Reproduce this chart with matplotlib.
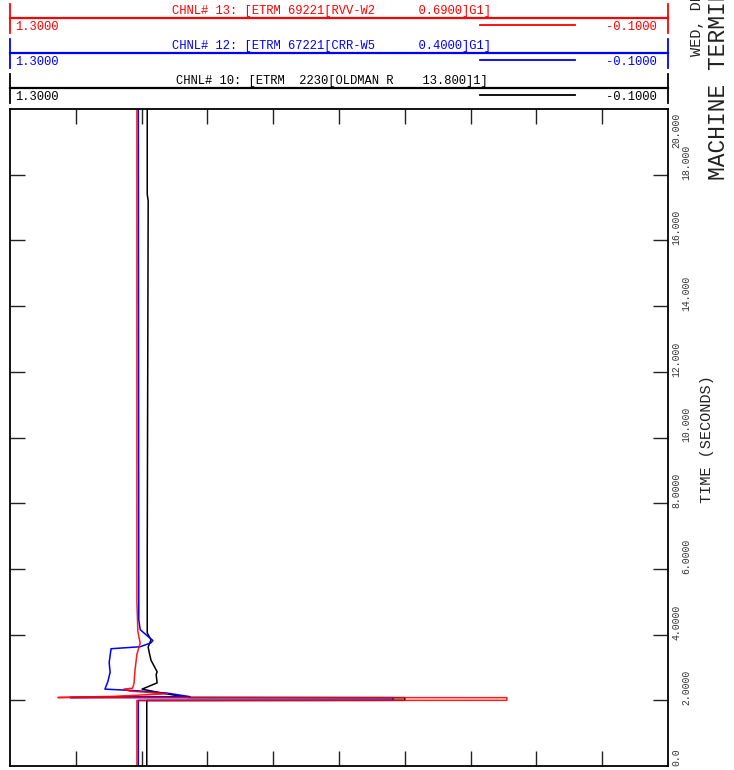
import numpy as np
import matplotlib.pyplot as plt

plt.rcParams['font.family'] = ['Liberation Mono', 'DejaVu Sans Mono']

# -------------------------------------------------
# data (time in s, terminal voltage in pu)
# -------------------------------------------------
t_ch13 = [0.0, 1.995, 2.0, 2.08, 2.085, 2.12, 2.2, 2.28, 2.34, 2.37, 2.53,
          2.92, 3.4, 3.74, 4.1, 5.0, 20.0]
v_ch13 = [1.030, 1.030, 0.243, 0.243, 1.198, 1.08, 0.965, 1.045, 1.058, 1.039,
          1.036, 1.034, 1.030, 1.023, 1.028, 1.030, 1.030]

t_ch12 = [0.0, 1.995, 2.0, 2.08, 2.085, 2.11, 2.22, 2.30, 2.34, 2.56, 2.85,
          3.15, 3.57, 3.63, 3.75, 3.82, 3.94, 4.15, 4.45, 20.0]
v_ch12 = [1.027, 1.027, 0.485, 0.485, 1.172, 0.917, 0.966, 1.040, 1.098, 1.092,
          1.087, 1.089, 1.085, 1.023, 1.000, 0.996, 1.006, 1.023, 1.026, 1.027]

t_ch10 = [0.0, 1.995, 2.0, 2.08, 2.085, 2.23, 2.34, 2.53, 2.78, 2.87, 3.22,
          3.47, 3.62, 3.84, 4.05, 6.5, 17.2, 17.4, 20.0]
v_ch10 = [1.009, 1.009, 0.460, 0.460, 0.920, 0.981, 1.019, 0.987, 0.989, 0.987,
          1.000, 1.004, 1.006, 1.000, 1.008, 1.008, 1.006, 1.008, 1.008]

channel_titles = [
    "CHNL# 13: [ETRM 69221[RVV-W2      0.6900]G1]",
    "CHNL# 12: [ETRM 67221[CRR-W5      0.4000]G1]",
    "CHNL# 10: [ETRM  2230[OLDMAN R    13.800]1]",
]
channel_colors = ["#ff0000", "#0000ff", "#000000"]
v_min, v_max = -0.1, 1.3
time_ticks = [0.0, 2.0, 4.0, 6.0, 8.0, 10.0, 12.0, 14.0, 16.0, 18.0, 20.0]
time_labels = ["0.0", "2.0000", "4.0000", "6.0000", "8.0000", "10.000",
               "12.000", "14.000", "16.000", "18.000", "20.000"]

W, H = 734, 770
fig = plt.figure(figsize=(W / 100, H / 100), dpi=100)

# -------------------------------------------------
# main plot (time runs upward, voltage decreases to the right)
# -------------------------------------------------
ax = fig.add_axes([10 / W, 4 / H, 658 / W, 657 / H])
ax.set_xlim(v_max, v_min)
ax.set_ylim(0, 20)

ax.plot(v_ch10, t_ch10, color=channel_colors[2], lw=1.1)
ax.plot(v_ch12, t_ch12, color=channel_colors[1], lw=1.1)
ax.plot(v_ch13, t_ch13, color=channel_colors[0], lw=1.1, alpha=0.9)

ax.set_xticks(np.linspace(v_max, v_min, 11)[1:-1])
ax.set_yticks(time_ticks[1:-1])
ax.tick_params(direction="in", length=11, width=1.0, top=True, right=True,
               labelbottom=False, labelleft=False, colors="#222222")
for s in ax.spines.values():
    s.set_linewidth(1.3)

tr = ax.get_yaxis_transform()
for i, (tv, lab) in enumerate(zip(time_ticks, time_labels)):
    xcol = 1.0122 if i % 2 == 0 else 1.0274
    if i == 0:
        ax.text(xcol, tv, lab, transform=tr, rotation=90, ha="center",
                va="bottom", fontsize=7, color="#333333", clip_on=False)
    elif i == len(time_ticks) - 1:
        ax.text(xcol, tv - 0.12, lab, transform=tr, rotation=90, ha="center",
                va="top", fontsize=7, color="#333333", clip_on=False)
    else:
        ax.text(xcol, tv - 0.15, lab, transform=tr, rotation=90, ha="center",
                va="bottom", fontsize=7, color="#333333", clip_on=False)

ax.text(1.0600, 9.95, "TIME (SECONDS)", transform=tr, rotation=90,
        ha="center", va="center", fontsize=11, color="#222222", clip_on=False)
ax.text(1.0760, 17.84, "MACHINE TERMINAL VOLTAGE", transform=tr, rotation=90,
        ha="center", va="bottom", fontsize=16.5, color="#222222", clip_on=False)
fig.text(697 / W, 1 - 56 / H, "WED, DEC 04 2019  10:25", rotation=90,
         ha="center", va="bottom", fontsize=11, color="#222222")

# -------------------------------------------------
# channel header (pixel rows above the plot)
# -------------------------------------------------
hx = fig.add_axes([10 / W, 1 - 109 / H, 658 / W, 109 / H])
hx.set_xlim(v_max, v_min)
hx.set_ylim(109, 0)
hx.axis("off")

for k, (title, col) in enumerate(zip(channel_titles, channel_colors)):
    y0 = 18 + 35 * k
    hx.plot([v_max, v_min], [y0, y0], color=col, lw=1.6, clip_on=False)
    hx.plot([v_max, v_max], [y0 - 14, y0 + 15], color=col, lw=1.3, clip_on=False)
    hx.plot([v_min, v_min], [y0 - 14, y0 + 15], color=col, lw=1.3, clip_on=False)
    hx.plot([0.30, 0.098], [y0 + 7, y0 + 7], color=col, lw=1.3)
    hx.text(0.616, y0 - 1, title, ha="center", va="bottom",
            fontsize=8.7, color=col)
    hx.text(1.288, y0 + 9, "%.4f" % v_max, ha="left", va="center",
            fontsize=8.7, color=col)
    hx.text(-0.077, y0 + 9, "%.4f" % v_min, ha="right", va="center",
            fontsize=8.7, color=col)

fig.savefig("out.png", dpi=100)
plt.close(fig)
